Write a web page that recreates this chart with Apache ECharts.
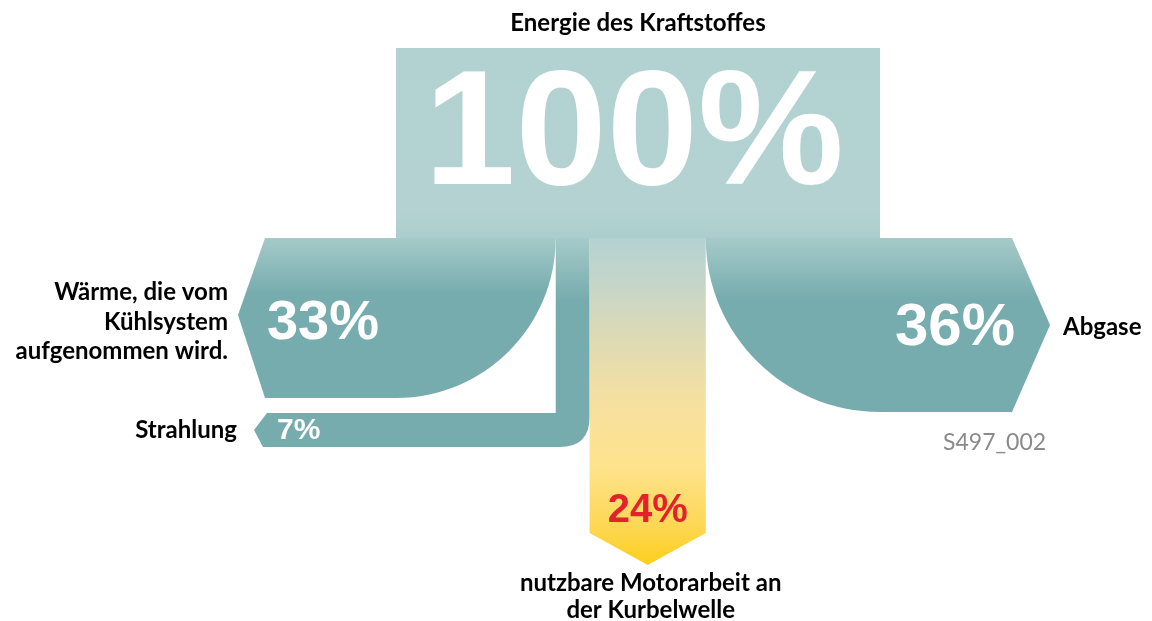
<!DOCTYPE html>
<html><head><meta charset="utf-8">
<script src="https://cdn.jsdelivr.net/npm/echarts@6/dist/echarts.min.js"></script>
<style>html,body{margin:0;padding:0;background:#fff}#c{width:1152px;height:621px}</style>
</head><body><div id="c"></div>
<script>
// ---- data ----
const sourceLabel = 'Energie des Kraftstoffes';
const sourceValue = 100;
const flowNames = ['Wärme, die vom\nKühlsystem\naufgenommen wird.', 'Strahlung', 'nutzbare Motorarbeit an\nder Kurbelwelle', 'Abgase'];
const flowValues = [33, 7, 24, 36];
const figureId = 'S497_002';

// ---- layout (pixels) ----
const LY = { boxTop: 48, split: 238, leftBottom: 398, rightBottom: 412, stripTop: 413,
  leftOuter: 265, leftTip: 238, stripOuter: 265, stripTip: 254, rightOuter: 1012, rightTip: 1050,
  usefulEnd: 533, usefulTip: 565 };
const TEAL = '#76acad';
const LABEL_FONT = 'Lato, "Noto Sans", sans-serif';
const LABEL_STYLE = 'bold 24px ' + LABEL_FONT;
const NUM_FONT = '"Liberation Sans", Arial, sans-serif';

// cumulative positions
const rows = [[0, sourceValue, 0]];
let acc = 0;
flowValues.forEach(v => { rows.push([acc, acc + v, 0]); acc += v; });

const K = 0.5523;
function renderItem(params, api) {
  const i = params.dataIndex;
  const xa = api.coord([api.value(0), 0])[0];
  const xb = api.coord([api.value(1), 0])[0];
  const S = LY.split;
  const armGrad = { type: 'linear', x: 0, y: 0, x2: 0, y2: 1, colorStops: [
    { offset: 0, color: '#a6caca' }, { offset: 0.35, color: TEAL }, { offset: 1, color: TEAL }] };
  if (i === 0) {
    return { type: 'group', children: [
      { type: 'rect', shape: { x: xa, y: LY.boxTop, width: xb - xa, height: S - LY.boxTop + 1 },
        style: { fill: { type: 'linear', x: 0, y: 0, x2: 0, y2: 1, colorStops: [
          { offset: 0, color: '#b2d1d1' }, { offset: 0.85, color: '#b4d2d2' }, { offset: 1, color: '#accdcd' }] } } },
      { type: 'text', x: (xa + xb) / 2 - 4, y: 139, style: { text: sourceValue + '%', fill: '#fff',
        font: 'bold 164px ' + NUM_FONT, align: 'center', verticalAlign: 'middle' } },
      { type: 'text', x: (xa + xb) / 2, y: 23, style: { text: sourceLabel, fill: '#000',
        font: LABEL_STYLE, align: 'center', verticalAlign: 'middle' } }
    ] };
  }
  const v = flowValues[i - 1], name = flowNames[i - 1];
  if (i === 1) {
    const B = LY.leftBottom, rx = xb - xa, ry = B - S;
    const d = `M${LY.leftOuter},${S} L${xb},${S} C${xb},${S + K * ry} ${xa + K * rx},${B} ${xa},${B} L${LY.leftOuter},${B} L${LY.leftTip},${(S + B) / 2 - 3} Z`;
    return { type: 'group', children: [
      { type: 'path', shape: { pathData: d }, style: { fill: armGrad } },
      { type: 'text', x: 323, y: 324, style: { text: v + '%', fill: '#fff', font: 'bold 56px ' + NUM_FONT, align: 'center', verticalAlign: 'middle' } },
      { type: 'text', x: 228, y: 322, style: { text: name, fill: '#000', font: LABEL_STYLE, align: 'right', verticalAlign: 'middle', lineHeight: 29.5 } }
    ] };
  }
  if (i === 2) {
    const t = xb - xa, top = LY.stripTop, bot = top + t, r = 30;
    const d = `M${xa},${S} L${xb},${S} L${xb},${bot - r} Q${xb},${bot} ${xb - r},${bot} L${LY.stripOuter - 2},${bot} L${LY.stripTip},${(top + bot) / 2} L${LY.stripOuter + 2},${top} L${xa},${top} Z`;
    return { type: 'group', children: [
      { type: 'path', shape: { pathData: d }, style: { fill: { type: 'linear', x: 0, y: 0, x2: 0, y2: 1, colorStops: [
        { offset: 0, color: '#a6caca' }, { offset: 0.3, color: TEAL }, { offset: 1, color: TEAL }] } } },
      { type: 'text', x: 277, y: (top + bot) / 2 + 1, style: { text: v + '%', fill: '#fff', font: 'bold 30px ' + NUM_FONT, align: 'left', verticalAlign: 'middle' } },
      { type: 'text', x: 237, y: (top + bot) / 2, style: { text: name, fill: '#000', font: LABEL_STYLE, align: 'right', verticalAlign: 'middle' } }
    ] };
  }
  if (i === 3) {
    const cx = (xa + xb) / 2;
    const d = `M${xa},${S} L${xb},${S} L${xb},${LY.usefulEnd} L${cx},${LY.usefulTip} L${xa},${LY.usefulEnd} Z`;
    return { type: 'group', children: [
      { type: 'path', shape: { pathData: d }, style: { fill: { type: 'linear', x: 0, y: 0, x2: 0, y2: 1, colorStops: [
        { offset: 0, color: '#b4d2d1' }, { offset: 0.12, color: '#c3d5cb' }, { offset: 0.3, color: '#dcdab5' },
        { offset: 0.5, color: '#f6e0a0' }, { offset: 0.7, color: '#fee38c' }, { offset: 0.88, color: '#fdd754' }, { offset: 1, color: '#fccf1c' }] } } },
      { type: 'text', x: cx, y: 511, style: { text: v + '%', fill: '#e3232b', font: 'bold 40px ' + NUM_FONT, align: 'center', verticalAlign: 'middle' } },
      { type: 'text', x: cx + 3, y: 597, style: { text: name, fill: '#000', font: LABEL_STYLE, align: 'center', verticalAlign: 'middle', lineHeight: 27 } }
    ] };
  }
  // i === 4
  const B = LY.rightBottom, rx = xb - xa, ry = B - S;
  const d = `M${xa},${S} L${LY.rightOuter},${S} L${LY.rightTip},${(S + B) / 2} L${LY.rightOuter},${B} L${xb},${B} C${xb - K * rx},${B} ${xa},${S + K * ry} ${xa},${S} Z`;
  return { type: 'group', children: [
    { type: 'path', shape: { pathData: d }, style: { fill: armGrad } },
    { type: 'text', x: 955, y: 328, style: { text: v + '%', fill: '#fff', font: 'bold 60px ' + NUM_FONT, align: 'center', verticalAlign: 'middle' } },
    { type: 'text', x: 1063, y: 327, style: { text: name, fill: '#000', font: LABEL_STYLE, align: 'left', verticalAlign: 'middle' } }
  ] };
}

const chart = echarts.init(document.getElementById('c'), null, { renderer: 'canvas' });
chart.setOption({
  animation: false,
  backgroundColor: '#fff',
  grid: { left: 396, right: 272, top: 0, bottom: 0 },
  xAxis: { type: 'value', min: 0, max: sourceValue, show: false },
  yAxis: { type: 'value', min: 0, max: 1, show: false },
  graphic: [{ type: 'text', left: 943, top: 431, style: { text: figureId, fill: '#8a8a8a', font: '23px ' + LABEL_FONT } }],
  series: [{ type: 'custom', renderItem, clip: false, encode: { x: [0, 1], y: 2 }, data: rows }]
});
</script></body></html>
